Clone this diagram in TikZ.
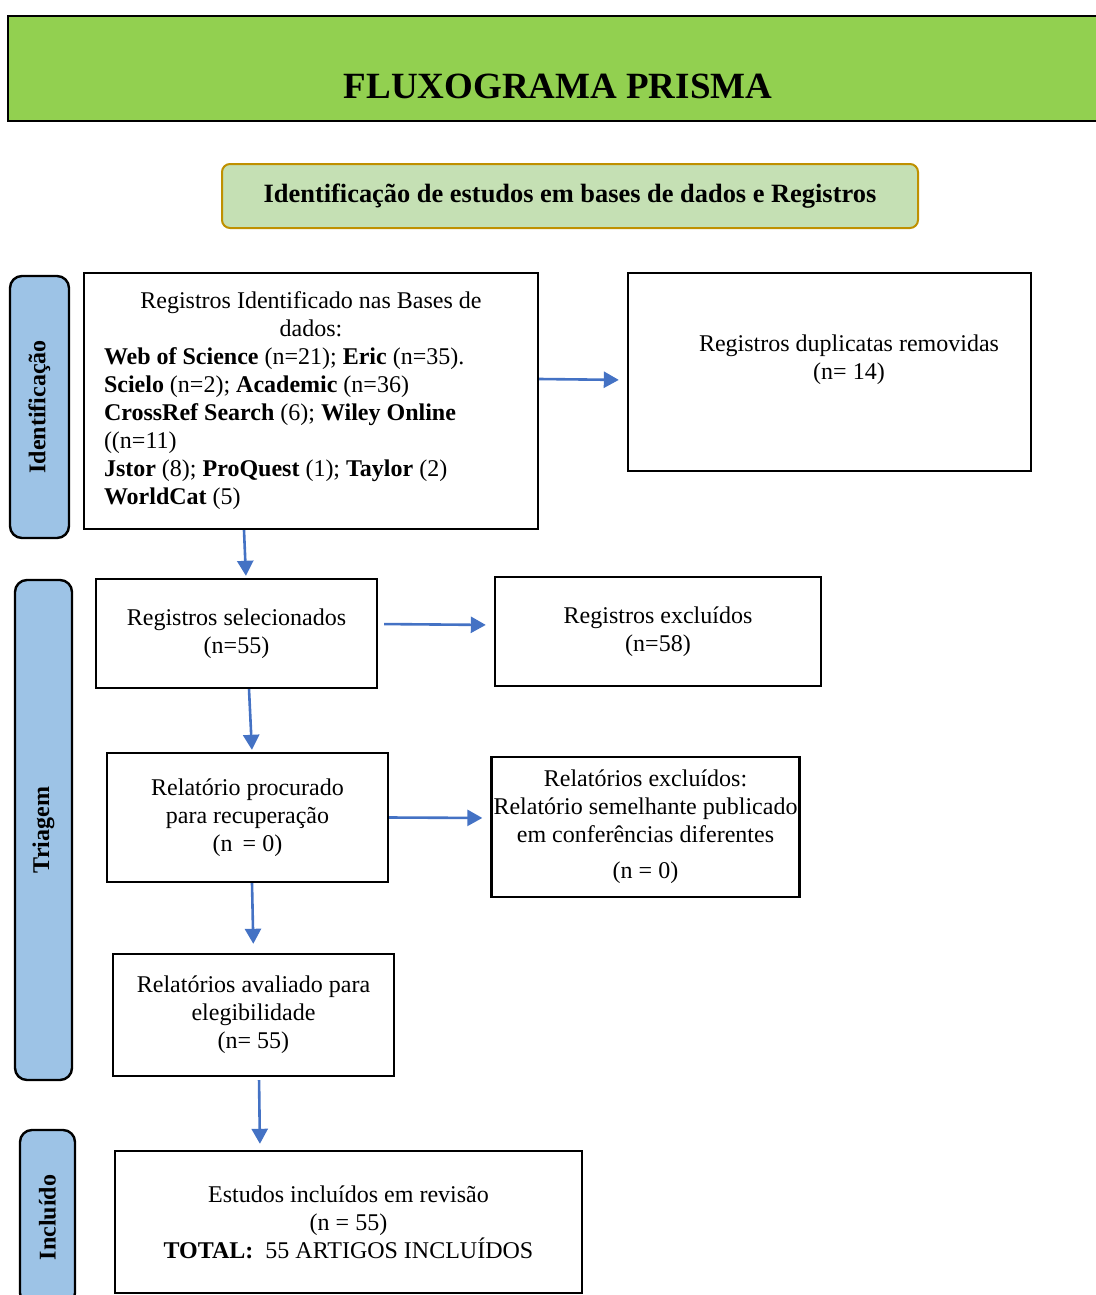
\documentclass[tikz,border=0pt]{standalone}
\usepackage{fontspec}
\setmainfont{Liberation Serif}
\usetikzlibrary{arrows.meta, positioning, calc}

\definecolor{bannergreen}{HTML}{92D050}
\definecolor{subgreen}{HTML}{C5E0B4}
\definecolor{subgold}{HTML}{BF9000}
\definecolor{sideblue}{HTML}{9DC3E6}
\definecolor{arrowblue}{HTML}{4472C4}

\begin{document}
\begin{tikzpicture}[
      x=0.5pt, y=-0.5pt,
      box/.style={draw, line width=1.2pt, rectangle, align=center, inner sep=1pt,
        font={\fontsize{12pt}{14pt}\selectfont}},
      side/.style={draw, line width=1.2pt, rounded corners=6pt, fill=sideblue, rotate=90,
        inner sep=0pt, font={\fontsize{12pt}{14pt}\selectfont\bfseries}},
      arr/.style={draw=arrowblue, line width=1.3pt, -{Triangle[length=7.5pt, width=8pt]}}
    ]
      \useasboundingbox (0,0) rectangle (1096,1295);

      % cabecalho
      \node[draw, line width=1.2pt, fill=bannergreen, minimum width=551pt, minimum height=52.5pt] (banner) at (559,68.5) {};
      \node[font={\fontsize{18.5pt}{22pt}\selectfont\bfseries}] (title) at (558,86) {FLUXOGRAMA PRISMA};
      \node[draw=subgold, line width=1pt, fill=subgreen, rounded corners=4pt, minimum width=348pt, minimum height=32pt,
        font={\fontsize{13.2pt}{16pt}\selectfont\bfseries}] (sub) at (570,196) {Identificação de estudos em bases de dados e Registros};

      % fases
      \node[side, minimum width=131pt, minimum height=29.5pt] (fid) at (39.5,407) {Identificação};
      \node[side, minimum width=250pt, minimum height=28.5pt] (ftr) at (43.5,830) {Triagem};
      \node[side, minimum width=87.5pt, minimum height=27.5pt] (fin) at (47.5,1217.5) {Incluído};

      % caixas
      \node[box, minimum width=227pt, minimum height=128pt, text width=207pt, align=none] (reg) at (311,401) {%
        {\centering Registros Identificado nas Bases de\\dados:\par}\raggedright
        \textbf{Web of Science} (n=21); \textbf{Eric} (n=35).\\
        \textbf{Scielo} (n=2); \textbf{Academic} (n=36)\\
        \textbf{CrossRef Search} (6); \textbf{Wiley Online}\\
        ((n=11)\\
        \textbf{Jstor} (8); \textbf{ProQuest} (1); \textbf{Taylor} (2)\\
        \textbf{WorldCat} (5)};
      \node[box, minimum width=201.5pt, minimum height=99pt,
        label={[align=center, font={\fontsize{12pt}{14pt}\selectfont}, xshift=9.75pt, yshift=6pt]center:Registros duplicatas removidas\\(n= 14)}] (dup) at (829.5,372) {};
      \node[box, minimum width=140.5pt, minimum height=54.5pt] (sel) at (236.5,633.5) {Registros selecionados\\(n=55)};
      \node[box, minimum width=163pt, minimum height=54.5pt] (excl) at (658,631.5) {Registros excluídos\\(n=58)};
      \node[box, minimum width=140.5pt, minimum height=64.5pt] (rel) at (247.5,817.5) {Relatório procurado\\para recuperação\\(n \,= 0)};
      \node[box, minimum width=153.5pt, minimum height=70pt] (relexcl) at (645.5,827) {Relatórios excluídos:\\Relatório semelhante publicado\\em conferências diferentes\\[4pt](n = 0{\large)}};
      \node[box, minimum width=140.5pt, minimum height=61pt] (aval) at (253.5,1015) {Relatórios avaliado para\\elegibilidade\\(n= 55)};
      \node[box, minimum width=233.5pt, minimum height=71pt] (incl) at (348.5,1222) {Estudos incluídos em revisão\\(n = 55)\\\textbf{TOTAL:}\ \ 55 ARTIGOS INCLUÍDOS};

      % setas
      \draw[arr, shorten >=4pt] ([yshift=11pt]reg.east) -- ([yshift=-4pt]dup.west);
      \draw[arr, shorten >=1pt] ([xshift=-33.5pt]reg.south) -- ([xshift=4.75pt]sel.north);
      \draw[arr, shorten <=3pt, shorten >=4pt] ([yshift=4.75pt]sel.east) -- ([yshift=3.25pt]excl.west);
      \draw[arr, shorten >=1pt] ([xshift=6.25pt]sel.south) -- ([xshift=2.25pt]rel.north);
      \draw[arr, shorten >=4pt] (rel.east) -- ([yshift=4.5pt]relexcl.west);
      \draw[arr, shorten >=4.5pt] ([xshift=2.25pt]rel.south) -- (aval.north);
      \draw[arr, shorten <=1.5pt, shorten >=3pt] ([xshift=2.75pt]aval.south) -- ([xshift=-44.25pt]incl.north);
    \end{tikzpicture}
\end{document}
